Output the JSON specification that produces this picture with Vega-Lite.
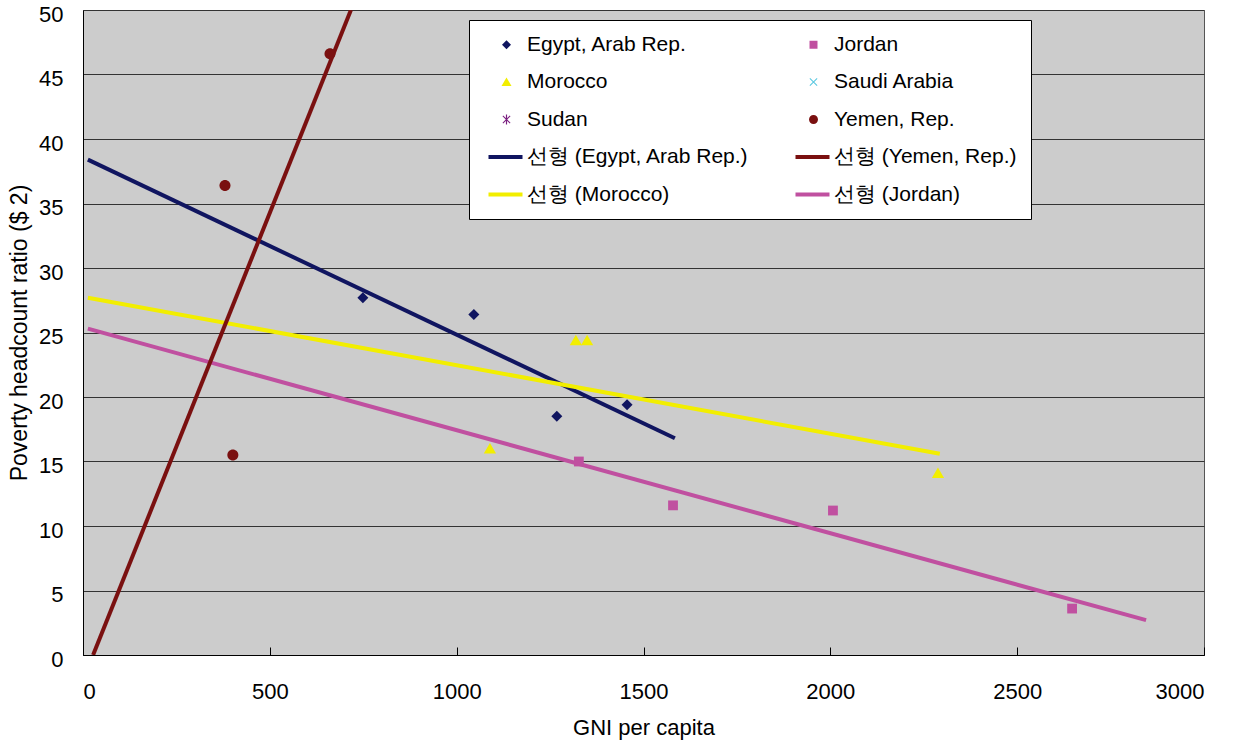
{
  "$schema": "https://vega.github.io/schema/vega-lite/v6.json",
  "width": 1121,
  "height": 645,
  "autosize": {"type": "none"},
  "padding": {"left": 83, "top": 10, "right": 37, "bottom": 89},
  "background": "white",
  "config": {
    "font": "Liberation Sans",
    "view": {"fill": "#CCCCCC", "stroke": "#555555", "strokeWidth": 1}
  },
  "datasets": {
    "pts": [
      {"series": "Egypt, Arab Rep.", "gni": 749, "poverty": 27.7},
      {"series": "Egypt, Arab Rep.", "gni": 1046, "poverty": 26.4},
      {"series": "Egypt, Arab Rep.", "gni": 1268, "poverty": 18.5},
      {"series": "Egypt, Arab Rep.", "gni": 1456, "poverty": 19.4},
      {"series": "Morocco", "gni": 1319, "poverty": 24.4},
      {"series": "Morocco", "gni": 1349, "poverty": 24.4},
      {"series": "Morocco", "gni": 1089, "poverty": 16.0},
      {"series": "Morocco", "gni": 2288, "poverty": 14.1},
      {"series": "Jordan", "gni": 1327, "poverty": 15.0},
      {"series": "Jordan", "gni": 1579, "poverty": 11.6},
      {"series": "Jordan", "gni": 2007, "poverty": 11.2},
      {"series": "Jordan", "gni": 2647, "poverty": 3.6},
      {"series": "Yemen, Rep.", "gni": 380, "poverty": 36.4},
      {"series": "Yemen, Rep.", "gni": 661, "poverty": 46.6},
      {"series": "Yemen, Rep.", "gni": 401, "poverty": 15.5}
    ],
    "trend": [
      {"series": "선형 (Egypt, Arab Rep.)", "gni": 13, "poverty": 38.4},
      {"series": "선형 (Egypt, Arab Rep.)", "gni": 1584, "poverty": 16.8},
      {"series": "선형 (Morocco)", "gni": 13, "poverty": 27.7},
      {"series": "선형 (Morocco)", "gni": 2293, "poverty": 15.6},
      {"series": "선형 (Jordan)", "gni": 13, "poverty": 25.3},
      {"series": "선형 (Jordan)", "gni": 2845, "poverty": 2.7},
      {"series": "선형 (Yemen, Rep.)", "gni": 27, "poverty": 0},
      {"series": "선형 (Yemen, Rep.)", "gni": 717, "poverty": 50}
    ]
  },
  "layer": [
    {
      "data": {"name": "trend"},
      "mark": {"type": "line", "strokeWidth": 4, "clip": true},
      "encoding": {
        "x": {"field": "gni", "type": "quantitative"},
        "y": {"field": "poverty", "type": "quantitative"},
        "stroke": {
          "field": "series",
          "type": "nominal",
          "scale": {
            "domain": ["선형 (Egypt, Arab Rep.)", "선형 (Morocco)", "선형 (Jordan)", "선형 (Yemen, Rep.)"],
            "range": ["#101560", "#F2EE00", "#C050A0", "#7A1010"]
          },
          "legend": null
        }
      }
    },
    {
      "data": {"name": "pts"},
      "mark": {"type": "point", "filled": true, "opacity": 1, "size": 600},
      "encoding": {
        "x": {
          "field": "gni",
          "type": "quantitative",
          "scale": {"domain": [0, 3000], "nice": false},
          "axis": {
            "title": "GNI per capita",
            "values": [0, 500, 1000, 1500, 2000, 2500, 3000],
            "format": "d",
            "grid": false,
            "domainColor": "#000000",
            "tickColor": "#000000",
            "tickSize": -8,
            "labelPadding": 34,
            "labelFontSize": 22,
            "labelColor": "#000000",
            "titleFontSize": 22,
            "titleFontWeight": "normal",
            "titleColor": "#000000",
            "titlePadding": 15
          }
        },
        "y": {
          "field": "poverty",
          "type": "quantitative",
          "scale": {"domain": [0, 50], "nice": false},
          "axis": {
            "title": "Poverty headcount ratio ($ 2)",
            "values": [0, 5, 10, 15, 20, 25, 30, 35, 40, 45, 50],
            "grid": true,
            "gridColor": "#333333",
            "gridWidth": 1,
            "ticks": false,
            "domainColor": "#000000",
            "labelPadding": 20,
            "labelOffset": 4,
            "labelFontSize": 22,
            "labelColor": "#000000",
            "titleFontSize": 23,
            "titleFontWeight": "normal",
            "titleColor": "#000000",
            "titlePadding": 7
          }
        },
        "fill": {
          "field": "series",
          "type": "nominal",
          "scale": {
            "domain": ["Egypt, Arab Rep.", "Morocco", "Sudan", "선형 (Egypt, Arab Rep.)", "선형 (Morocco)", "Jordan", "Saudi Arabia", "Yemen, Rep.", "선형 (Yemen, Rep.)", "선형 (Jordan)"],
            "range": ["#101560", "#F2EE00", "#7B2080", "#101560", "#F2EE00", "#C050A0", "#5BC8E0", "#7A1010", "#7A1010", "#C050A0"]
          },
          "legend": {
            "title": null,
            "orient": "none",
            "legendX": 386,
            "legendY": 10,
            "columns": 2,
            "columnPadding": 41,
            "rowPadding": 15.5,
            "padding": 14,
            "fillColor": "white",
            "strokeColor": "#000000",
            "symbolSize": 400,
            "symbolOffset": 13,
            "symbolStrokeWidth": 0,
            "labelFontSize": 21,
            "labelColor": "#000000",
            "labelOffset": 10,
            "labelLimit": 400
          }
        },
        "shape": {
          "field": "series",
          "type": "nominal",
          "scale": {
            "domain": ["Egypt, Arab Rep.", "Morocco", "Sudan", "선형 (Egypt, Arab Rep.)", "선형 (Morocco)", "Jordan", "Saudi Arabia", "Yemen, Rep.", "선형 (Yemen, Rep.)", "선형 (Jordan)"],
            "range": [
              "M-0.45,0L0,-0.45L0.45,0L0,0.45Z",
              "M0,-0.45L0.5,0.4H-0.5Z",
              "M-0.4,-0.325L-0.325,-0.4L0,-0.075L0.325,-0.4L0.4,-0.325L0.075,0L0.4,0.325L0.325,0.4L0,0.075L-0.325,0.4L-0.4,0.325L-0.075,0ZM-0.06,-0.5H0.06V0.5H-0.06Z",
              "M-1.8,-0.2H1.6V0.2H-1.8Z",
              "M-1.8,-0.2H1.6V0.2H-1.8Z",
              "M-0.4,-0.4H0.4V0.4H-0.4Z",
              "M-0.4,-0.325L-0.325,-0.4L0,-0.075L0.325,-0.4L0.4,-0.325L0.075,0L0.4,0.325L0.325,0.4L0,0.075L-0.325,0.4L-0.4,0.325L-0.075,0Z",
              "M-0.45,0A0.45,0.45 0 1,0 0.45,0A0.45,0.45 0 1,0 -0.45,0Z",
              "M-1.8,-0.2H1.6V0.2H-1.8Z",
              "M-1.8,-0.2H1.6V0.2H-1.8Z"
            ]
          },
          "legend": {
            "title": null,
            "orient": "none",
            "legendX": 386,
            "legendY": 10,
            "columns": 2,
            "columnPadding": 41,
            "rowPadding": 15.5,
            "padding": 14,
            "fillColor": "white",
            "strokeColor": "#000000",
            "symbolSize": 400,
            "symbolOffset": 13,
            "symbolStrokeWidth": 0,
            "labelFontSize": 21,
            "labelColor": "#000000",
            "labelOffset": 10,
            "labelLimit": 400
          }
        }
      }
    }
  ]
}
